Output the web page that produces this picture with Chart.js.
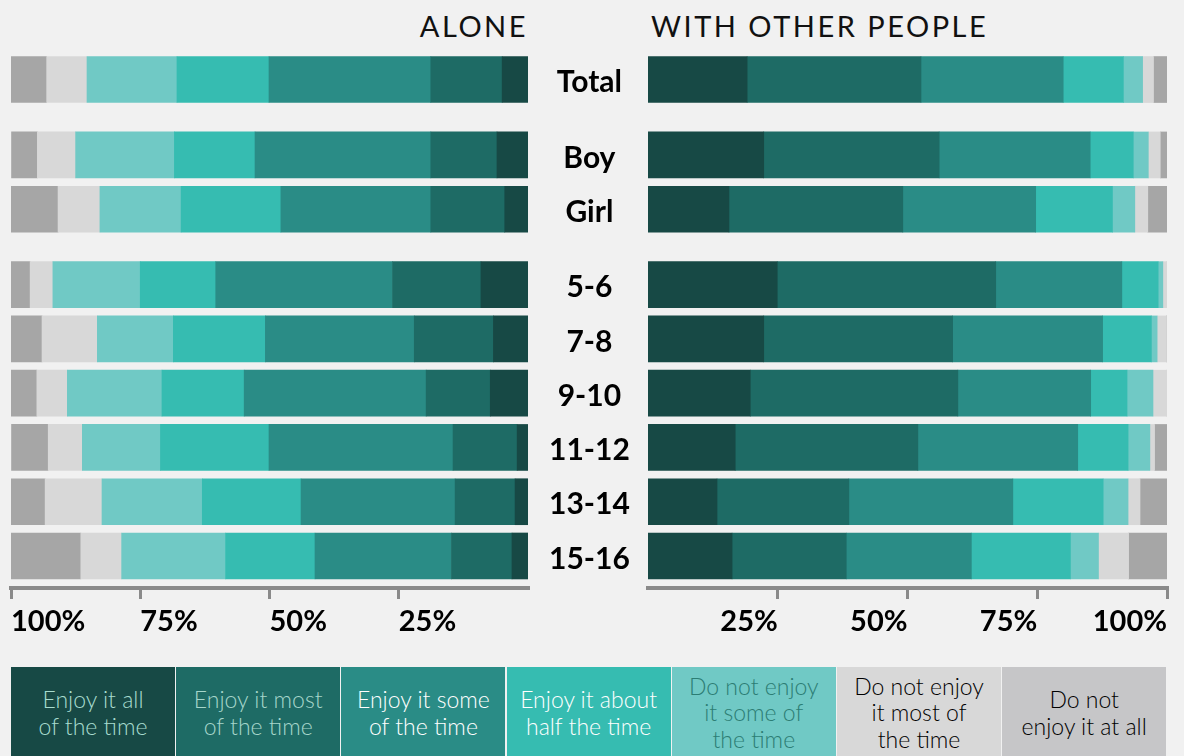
<!DOCTYPE html>
<html><head><meta charset="utf-8">
<script src="https://cdn.jsdelivr.net/npm/chart.js@4.4.1/dist/chart.umd.min.js"></script>
<style>
html,body{margin:0;padding:0;background:#f1f1f1;width:1184px;height:756px;overflow:hidden;}
#wrap{position:relative;width:1184px;height:756px;}
.title{position:absolute;top:8px;font-family:Lato,'Open Sans',sans-serif;font-size:29px;line-height:36px;letter-spacing:2.5px;color:#111;font-weight:400;white-space:nowrap;}
#tLeft{right:656px;}
#tRight{left:651px;}
canvas{position:absolute;}
#cLeft{left:0;top:50px;}
#cRight{left:640px;top:50px;}
#legend{position:absolute;left:11px;top:667px;width:1160px;height:95px;}
.lg{position:absolute;top:0;height:91px;width:164px;display:flex;align-items:center;justify-content:center;text-align:center;font-family:Lato,'Open Sans',sans-serif;font-weight:300;font-size:23px;line-height:26.5px;}
</style></head>
<body><div id="wrap">
<div class="title" id="tLeft">ALONE</div>
<div class="title" id="tRight">WITH OTHER PEOPLE</div>
<canvas id="cLeft" width="640" height="590"></canvas>
<canvas id="cRight" width="544" height="590"></canvas>
<div id="legend"></div>
</div>
<script>
// ---- data ----
const categories = ['Total', 'Boy', 'Girl', '5-6', '7-8', '9-10', '11-12', '13-14', '15-16'];
const categoryGroup = [0, 1, 1, 2, 2, 2, 2, 2, 2];
const seriesNames = [
  ['Enjoy it all', 'of the time'],
  ['Enjoy it most', 'of the time'],
  ['Enjoy it some', 'of the time'],
  ['Enjoy it about', 'half the time'],
  ['Do not enjoy', 'it some of', 'the time'],
  ['Do not enjoy', 'it most of', 'the time'],
  ['Do not', 'enjoy it at all']
];
const tickValues = [25, 50, 75, 100];

// ALONE (%)
const aloneAll      = [5.0, 6.0, 4.5, 9.1, 6.7, 7.3, 2.1, 2.5, 3.1];
const aloneMost     = [13.8, 12.8, 14.3, 17.1, 15.3, 12.4, 12.4, 11.6, 11.7];
const aloneSome     = [31.3, 34.0, 29.0, 34.2, 28.8, 35.2, 35.6, 29.8, 26.4];
const aloneHalf     = [17.8, 15.6, 19.3, 14.6, 17.8, 15.9, 21.0, 19.1, 17.3];
const aloneNotSome  = [17.4, 19.1, 15.7, 16.9, 14.7, 18.3, 15.1, 19.4, 20.1];
const aloneNotMost  = [7.8, 7.4, 8.1, 4.4, 10.7, 5.9, 6.6, 11.0, 7.9];
const aloneNotAtAll = [6.9, 5.0, 9.1, 3.7, 6.0, 5.0, 7.1, 6.6, 13.5];

// WITH OTHER PEOPLE (%)
const othersAll      = [19.1, 22.3, 15.6, 24.9, 22.3, 19.7, 16.8, 13.3, 16.2];
const othersMost     = [33.5, 33.8, 33.5, 42.1, 36.4, 40.0, 35.2, 25.4, 22.0];
const othersSome     = [27.4, 29.1, 25.6, 24.3, 28.9, 25.6, 30.8, 31.6, 24.1];
const othersHalf     = [11.6, 8.3, 14.8, 7.0, 9.4, 7.0, 9.7, 17.4, 19.1];
const othersNotSome  = [3.7, 2.9, 4.3, 0.9, 1.1, 5.0, 4.2, 4.8, 5.4];
const othersNotMost  = [2.1, 2.3, 2.5, 0.8, 1.8, 2.7, 0.9, 2.3, 5.8];
const othersNotAtAll = [2.6, 1.3, 3.7, 0.0, 0.0, 0.0, 2.4, 5.2, 7.4];

// ---- styles ----
const barColors = ['#174945', '#1e6b65', '#2a8c86', '#36bcb1', '#70c9c5', '#d8d8d8', '#a6a6a6'];
const legendFill = ['#174945', '#1e6b65', '#2a8c86', '#36bcb1', '#70c9c5', '#d8d8d8', '#c6c6c8'];
const legendText = ['#a8dccf', '#a6d6cb', '#ffffff', '#ffffff', '#2c7d74', '#000000', '#000000'];
const GROUP_GAP = 0.39;
const FONT = "Lato, 'Open Sans', sans-serif";

const rowPos = categories.map((c, i) => i + categoryGroup[i] * GROUP_GAP);
const yMin = -0.544, yMax = rowPos[rowPos.length - 1] + 0.59;

function makeDatasets(series) {
  return series.map((vals, k) => ({
    label: seriesNames[k].join(' '),
    data: vals.map((v, i) => ({ x: v, y: rowPos[i] })),
    backgroundColor: barColors[k],
    borderWidth: 0,
    barThickness: 46
  }));
}

function xScale(reverse, align) {
  return {
    type: 'linear', min: 0, max: 100, reverse: reverse, stacked: true,
    afterBuildTicks: s => { s.ticks = tickValues.map(v => ({ value: v })); },
    afterFit: s => { s.height = 52; s.paddingLeft = 0; s.paddingRight = 0; },
    border: { display: true, color: '#8a8a8a', width: 4 },
    grid: { display: true, drawOnChartArea: false, drawTicks: true, tickLength: 11, color: '#8a8a8a', lineWidth: 3 },
    ticks: { align: align, padding: 5, color: '#000', font: { family: FONT, size: 29, weight: 'bold' },
      callback: v => v + '%' }
  };
}

function yScale(show) {
  return {
    type: 'linear', display: show, position: 'right', min: yMin, max: yMax, reverse: true, stacked: true,
    offset: false,
    afterBuildTicks: s => { s.ticks = rowPos.map(v => ({ value: v })); },
    afterFit: s => { s.width = show ? 112 : 0; s.paddingTop = 0; s.paddingBottom = 0; },
    border: { display: false }, grid: { display: false, offset: false },
    ticks: { crossAlign: 'center', padding: 13, labelOffset: 3, color: '#000',
      font: { family: FONT, size: 30, weight: 'bold' },
      callback: v => categories[rowPos.indexOf(v)] }
  };
}

const commonOpts = {
  responsive: false, animation: false, indexAxis: 'y',
  plugins: { legend: { display: false }, tooltip: { enabled: false } }
};

new Chart(document.getElementById('cLeft'), {
  type: 'bar',
  data: { datasets: makeDatasets([aloneAll, aloneMost, aloneSome, aloneHalf, aloneNotSome, aloneNotMost, aloneNotAtAll]) },
  options: Object.assign({}, commonOpts, {
    layout: { padding: { left: 11, right: 0, top: 0, bottom: 0 } },
    scales: { x: xScale(true, 'start'), y: yScale(true) }
  })
});

new Chart(document.getElementById('cRight'), {
  type: 'bar',
  data: { datasets: makeDatasets([othersAll, othersMost, othersSome, othersHalf, othersNotSome, othersNotMost, othersNotAtAll]) },
  options: Object.assign({}, commonOpts, {
    layout: { padding: { left: 8, right: 17, top: 0, bottom: 0 } },
    scales: { x: xScale(false, 'end'), y: yScale(false) }
  })
});

// HTML legend
const lg = document.getElementById('legend');
seriesNames.forEach((lines, k) => {
  const d = document.createElement('div');
  d.className = 'lg';
  d.style.left = (k * 165.2) + 'px';
  d.style.background = legendFill[k];
  d.style.color = legendText[k];
  d.innerHTML = '<div>' + lines.join('<br>') + '</div>';
  lg.appendChild(d);
});
</script>
</body></html>
